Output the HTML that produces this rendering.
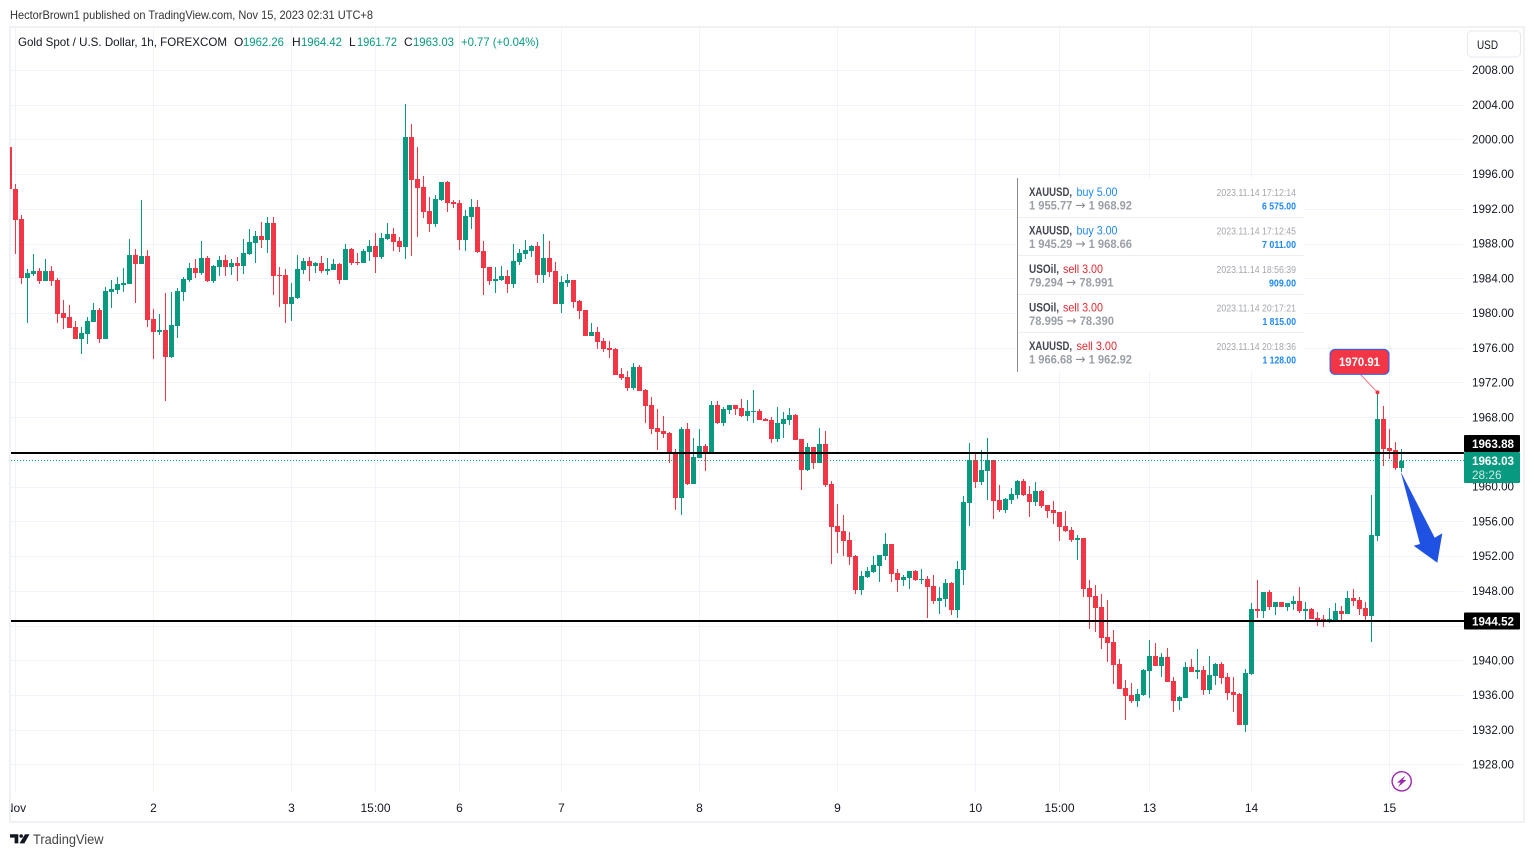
<!DOCTYPE html>
<html lang="en">
<head>
<meta charset="utf-8">
<title>Gold Spot / U.S. Dollar 1h chart</title>
<style>
html,body{margin:0;padding:0;background:#fff;width:1534px;height:857px;overflow:hidden}
svg{display:block}
text{font-family:"Liberation Sans",sans-serif;font-size:12px;fill:#131722}
.w1{font-size:12px;font-weight:bold;fill:#434651}
.w2{font-size:12px;font-weight:bold;fill:#9a9ea6}
.w2 tspan{font-family:"DejaVu Sans",sans-serif;font-weight:normal;font-size:13px;fill:#8a8e96}
.wd{font-size:10.5px;fill:#a3a6ad}
.wa{font-size:10px;font-weight:bold;fill:#1e88f5}
.buy{font-size:12px;fill:#1e88f5}
.sell{font-size:12px;fill:#e5262d}
.g{fill:#089981}
</style>
</head>
<body>
<svg id="chart" xmlns="http://www.w3.org/2000/svg" width="1534" height="857" viewBox="0 0 1534 857">
  <defs>
    <clipPath id="plotClip"><rect x="10" y="27" width="1454" height="795"/></clipPath>
    <clipPath id="axisClip"><rect x="11" y="27" width="1453" height="795"/></clipPath>
  </defs>
  <text x="10" y="19" textLength="363" lengthAdjust="spacingAndGlyphs" style="fill:#333">HectorBrown1 published on TradingView.com, Nov 15, 2023 02:31 UTC+8</text>
  <rect x="10" y="27" width="1514" height="795" fill="#fff" stroke="#f0f1f7" stroke-width="2"/>
  <g id="grid"></g>
  <g id="xAxis" clip-path="url(#axisClip)"></g>
  <g id="yAxis"></g>
  <g id="candles" clip-path="url(#plotClip)"></g>
  <g id="levels"></g>

  <g>
    <text x="18" y="46" textLength="209" lengthAdjust="spacingAndGlyphs">Gold Spot / U.S. Dollar, 1h, FOREXCOM</text>
    <text x="234" y="46">O</text>
    <text class="g" x="243" y="46" textLength="41" lengthAdjust="spacingAndGlyphs">1962.26</text>
    <text x="292" y="46">H</text>
    <text class="g" x="301" y="46" textLength="41" lengthAdjust="spacingAndGlyphs">1964.42</text>
    <text x="349" y="46">L</text>
    <text class="g" x="357" y="46" textLength="40" lengthAdjust="spacingAndGlyphs">1961.72</text>
    <text x="404" y="46">C</text>
    <text class="g" x="413" y="46" textLength="41" lengthAdjust="spacingAndGlyphs">1963.03</text>
    <text class="g" x="461" y="46" textLength="78" lengthAdjust="spacingAndGlyphs">+0.77 (+0.04%)</text>
  </g>

  <g>
    <rect x="1467.5" y="31" width="53" height="26" rx="4" fill="#fff" stroke="#e6e8ef"/>
    <text x="1477" y="49" textLength="21" lengthAdjust="spacingAndGlyphs">USD</text>
  </g>

  <g>
    <rect x="1017" y="178" width="287" height="194" fill="#fff"/>
    <rect x="1017" y="178" width="1" height="194" fill="#8a8a8a"/>
    <rect x="1018" y="217" width="286" height="1" fill="#eeeeee"/>
    <rect x="1018" y="255" width="286" height="1" fill="#eeeeee"/>
    <rect x="1018" y="294" width="286" height="1" fill="#eeeeee"/>
    <rect x="1018" y="332" width="286" height="1" fill="#eeeeee"/>

    <g>
      <text class="w1" x="1029" y="196" textLength="43" lengthAdjust="spacingAndGlyphs">XAUUSD,</text>
      <text class="buy" x="1076.5" y="196" textLength="41" lengthAdjust="spacingAndGlyphs">buy 5.00</text>
      <text class="w2" x="1029" y="209.5" textLength="103" lengthAdjust="spacingAndGlyphs">1 955.77 <tspan>→</tspan> 1 968.92</text>
      <text class="wd" x="1296" y="196" text-anchor="end" textLength="79.5" lengthAdjust="spacingAndGlyphs">2023.11.14 17:12:14</text>
      <text class="wa" x="1296" y="209.5" text-anchor="end" textLength="34" lengthAdjust="spacingAndGlyphs">6 575.00</text>
    </g>
    <g>
      <text class="w1" x="1029" y="234.5" textLength="43" lengthAdjust="spacingAndGlyphs">XAUUSD,</text>
      <text class="buy" x="1076.5" y="234.5" textLength="41" lengthAdjust="spacingAndGlyphs">buy 3.00</text>
      <text class="w2" x="1029" y="248" textLength="103" lengthAdjust="spacingAndGlyphs">1 945.29 <tspan>→</tspan> 1 968.66</text>
      <text class="wd" x="1296" y="234.5" text-anchor="end" textLength="79.5" lengthAdjust="spacingAndGlyphs">2023.11.14 17:12:45</text>
      <text class="wa" x="1296" y="248" text-anchor="end" textLength="34" lengthAdjust="spacingAndGlyphs">7 011.00</text>
    </g>
    <g>
      <text class="w1" x="1029" y="273" textLength="30" lengthAdjust="spacingAndGlyphs">USOil,</text>
      <text class="sell" x="1063" y="273" textLength="40" lengthAdjust="spacingAndGlyphs">sell 3.00</text>
      <text class="w2" x="1029" y="286.5" textLength="84.5" lengthAdjust="spacingAndGlyphs">79.294 <tspan>→</tspan> 78.991</text>
      <text class="wd" x="1296" y="273" text-anchor="end" textLength="79.5" lengthAdjust="spacingAndGlyphs">2023.11.14 18:56:39</text>
      <text class="wa" x="1296" y="286.5" text-anchor="end" textLength="27" lengthAdjust="spacingAndGlyphs">909.00</text>
    </g>
    <g>
      <text class="w1" x="1029" y="311.5" textLength="30" lengthAdjust="spacingAndGlyphs">USOil,</text>
      <text class="sell" x="1063" y="311.5" textLength="40" lengthAdjust="spacingAndGlyphs">sell 3.00</text>
      <text class="w2" x="1029" y="325" textLength="85" lengthAdjust="spacingAndGlyphs">78.995 <tspan>→</tspan> 78.390</text>
      <text class="wd" x="1296" y="311.5" text-anchor="end" textLength="79.5" lengthAdjust="spacingAndGlyphs">2023.11.14 20:17:21</text>
      <text class="wa" x="1296" y="325" text-anchor="end" textLength="33.5" lengthAdjust="spacingAndGlyphs">1 815.00</text>
    </g>
    <g>
      <text class="w1" x="1029" y="350" textLength="43" lengthAdjust="spacingAndGlyphs">XAUUSD,</text>
      <text class="sell" x="1076.5" y="350" textLength="40.5" lengthAdjust="spacingAndGlyphs">sell 3.00</text>
      <text class="w2" x="1029" y="363.5" textLength="103" lengthAdjust="spacingAndGlyphs">1 966.68 <tspan>→</tspan> 1 962.92</text>
      <text class="wd" x="1296" y="350" text-anchor="end" textLength="79.5" lengthAdjust="spacingAndGlyphs">2023.11.14 20:18:36</text>
      <text class="wa" x="1296" y="363.5" text-anchor="end" textLength="33.5" lengthAdjust="spacingAndGlyphs">1 128.00</text>
    </g>
  </g>

  <polygon points="1400.7,471.7 1420,544 1413.7,545.7 1437.3,562.7 1442.3,533.3 1434.7,537.7" fill="#1f52e3"/>

  <g>
    <circle cx="1401.7" cy="781.3" r="9.6" fill="#fff" stroke="#9c27b0" stroke-width="1.4"/>
    <polygon points="1405.5,775.5 1397,782.6 1400.6,782.6 1398,787.2 1406.5,780 1402.8,780" fill="#9c27b0"/>
  </g>

  <g>
    <polygon points="10,834.3 18.3,834.3 18.3,843.4 14.6,843.4 14.6,837.6 10,837.6" fill="#131722"/>
    <circle cx="21.2" cy="836" r="1.8" fill="#131722"/>
    <polygon points="25,834.3 29.5,834.3 24.4,843.4 19.5,843.4" fill="#131722"/>
    <text x="33" y="844" textLength="70.5" lengthAdjust="spacingAndGlyphs" style="font-size:13.5px;fill:#444">TradingView</text>
  </g>
</svg>

<script>
const priceTicks = [2008,2004,2000,1996,1992,1988,1984,1980,1976,1972,1968,1964,1960,1956,1952,1948,1944,1940,1936,1932,1928];
const hiddenPriceLabels = [1964,1944];
const timeLabels = ["Nov","2","3","15:00","6","7","8","9","10","15:00","13","14","15"];
const timeBars = [1,24,47,61,75,92,115,138,161,175,190,207,230];
const levelValues = [1963.88,1944.52];
const levelTagAbove = [true,false];
const lastPrice = 1963.03;
const countdownLabel = "28:26";
const markerPrice = 1970.91;
const markerBar = 228;

const opens = [1999.18,
1994.35,1990.89,1984.09,1984.55,1984.90,1983.75,1984.90,1983.86,1980.06,1979.60,
1978.45,1977.07,1977.64,1979.02,1980.41,1977.07,1982.48,1982.71,1983.29,1983.40,
1986.74,1985.71,1986.63,1979.37,1977.87,1978.10,1974.99,1978.56,1982.48,1983.86,
1985.24,1984.67,1986.40,1983.75,1985.36,1986.17,1985.36,1985.82,1985.47,1986.86,
1988.12,1988.93,1988.47,1990.43,1984.44,1984.44,1981.10,1981.79,1985.01,1986.05,
1985.47,1985.82,1984.90,1985.01,1985.71,1983.86,1987.43,1985.94,1985.82,1987.09,
1987.78,1986.51,1988.59,1989.16,1988.35,1987.66,2000.34,1995.50,1994.58,1991.81,
1990.31,1993.08,1995.15,1992.85,1992.73,1988.47,1991.12,1992.27,1987.20,1985.36,
1983.75,1983.86,1984.32,1983.40,1985.94,1986.86,1987.20,1987.78,1984.44,1986.40,
1984.90,1981.10,1983.52,1983.86,1981.44,1980.41,1977.41,1977.87,1976.83,1976.03,
1975.91,1973.03,1972.69,1971.42,1973.84,1971.19,1969.46,1966.81,1966.47,1966.24,
1964.05,1958.75,1966.70,1960.36,1963.36,1964.74,1963.93,1969.46,1967.39,1968.89,
1969.46,1969.12,1968.20,1968.66,1968.77,1967.85,1967.74,1965.55,1967.28,1967.74,
1968.31,1965.55,1961.98,1964.63,1962.78,1964.97,1960.36,1955.52,1954.95,1953.91,
1952.07,1948.15,1949.65,1950.23,1950.92,1952.07,1953.45,1950.11,1949.30,1949.53,
1950.34,1949.30,1949.42,1948.61,1946.88,1947.12,1948.96,1945.85,1950.46,1958.17,
1963.12,1960.59,1961.86,1963.12,1958.52,1957.36,1958.52,1959.09,1960.70,1959.21,
1958.29,1959.55,1957.94,1957.36,1957.13,1955.52,1955.06,1953.91,1954.14,1948.38,
1947.46,1946.19,1942.73,1942.16,1939.62,1936.86,1936.05,1935.36,1936.05,1938.82,
1940.54,1939.39,1940.43,1937.66,1935.36,1935.71,1939.28,1938.70,1938.93,1936.63,
1938.24,1939.62,1938.13,1936.40,1936.17,1932.60,1938.47,1945.96,1945.73,1947.92,
1946.19,1946.77,1946.19,1946.54,1946.88,1945.73,1945.96,1944.92,1944.81,1944.46,
1944.69,1945.73,1945.39,1947.23,1947.00,1946.08,1945.15,1954.37,1967.85,1964.51,
1964.28,1962.26];

const closes = [1994.31,
1990.77,1984.09,1984.67,1984.90,1983.75,1984.90,1983.75,1979.95,1979.48,1978.33,
1977.07,1977.76,1979.14,1980.41,1977.07,1982.59,1982.83,1983.40,1983.52,1986.74,
1985.71,1986.63,1979.25,1977.87,1978.10,1974.99,1978.68,1982.59,1983.98,1985.24,
1984.67,1986.40,1983.75,1985.47,1986.17,1985.36,1985.82,1985.47,1986.97,1988.24,
1988.93,1988.47,1990.43,1984.32,1984.32,1981.10,1981.90,1985.13,1986.05,1985.47,
1985.82,1984.90,1985.13,1985.71,1983.86,1987.43,1985.82,1985.82,1987.20,1987.78,
1986.51,1988.70,1989.16,1988.24,1987.66,2000.34,1995.38,1994.46,1991.70,1990.31,
1993.19,1995.15,1992.73,1992.62,1988.47,1991.23,1992.27,1987.09,1985.24,1983.75,
1983.98,1984.32,1983.40,1986.05,1986.97,1987.32,1987.78,1984.44,1986.40,1984.78,
1981.10,1983.63,1983.86,1981.33,1980.29,1977.41,1977.87,1976.72,1975.91,1975.80,
1972.92,1972.57,1971.42,1973.84,1971.07,1969.35,1966.70,1966.35,1966.12,1963.93,
1958.75,1966.70,1960.36,1963.47,1964.74,1963.93,1969.46,1967.39,1969.00,1969.46,
1969.00,1968.20,1968.77,1968.77,1967.74,1967.62,1965.55,1967.39,1967.85,1968.31,
1965.43,1961.98,1964.63,1962.78,1964.97,1960.25,1955.41,1954.83,1953.80,1951.95,
1948.15,1949.76,1950.34,1951.03,1952.18,1953.45,1950.00,1949.30,1949.65,1950.34,
1949.30,1949.42,1948.50,1946.88,1947.23,1948.96,1945.85,1950.57,1958.29,1963.12,
1960.59,1961.97,1963.12,1958.40,1957.36,1958.63,1959.21,1960.70,1959.09,1958.29,
1959.55,1957.82,1957.25,1957.02,1955.41,1954.94,1953.91,1954.14,1948.26,1947.34,
1946.07,1942.62,1942.04,1939.51,1936.74,1935.94,1935.36,1936.17,1938.93,1940.54,
1939.39,1940.43,1937.55,1935.36,1935.82,1939.28,1938.70,1938.93,1936.63,1938.36,
1939.62,1938.01,1936.28,1936.05,1932.60,1938.59,1945.96,1945.73,1947.92,1946.19,
1946.77,1946.19,1946.65,1946.88,1945.73,1945.96,1944.81,1944.69,1944.46,1944.81,
1945.73,1945.39,1947.23,1946.88,1945.96,1945.15,1954.49,1967.85,1964.39,1964.16,
1962.20,1963.03];

const highs = [1999.18,
1994.92,1991.32,1985.13,1986.86,1985.24,1986.28,1985.47,1984.09,1981.56,1980.98,
1979.14,1978.45,1979.60,1981.21,1980.64,1983.06,1983.86,1984.21,1985.24,1988.59,
1987.43,1993.08,1987.32,1980.52,1979.95,1982.36,1982.48,1982.94,1984.21,1985.82,
1986.28,1988.35,1986.63,1985.59,1986.63,1986.74,1986.28,1986.51,1988.59,1989.74,
1989.51,1990.54,1991.12,1991.12,1985.36,1985.13,1983.52,1986.74,1986.40,1986.51,
1985.94,1986.63,1986.40,1986.28,1985.82,1988.01,1987.55,1986.97,1987.43,1988.47,
1989.28,1989.28,1990.43,1989.85,1988.82,2004.14,2001.83,1999.18,1995.84,1993.42,
1993.65,1995.15,1995.27,1993.08,1993.08,1991.93,1993.19,1993.08,1988.35,1985.36,
1985.36,1985.47,1985.01,1988.01,1987.43,1988.47,1987.89,1988.24,1989.16,1988.35,
1985.94,1984.32,1984.55,1983.86,1981.56,1980.41,1978.91,1978.45,1977.18,1976.83,
1976.03,1973.72,1973.38,1974.30,1974.07,1971.31,1970.39,1969.00,1968.20,1966.35,
1964.40,1966.93,1967.39,1965.66,1966.70,1964.97,1969.92,1969.92,1969.23,1969.46,
1969.46,1970.16,1970.04,1971.19,1969.00,1967.97,1968.08,1969.23,1968.66,1969.12,
1968.43,1965.55,1965.09,1964.63,1966.81,1966.47,1960.71,1958.06,1956.79,1954.83,
1952.18,1950.34,1950.80,1952.07,1952.18,1954.72,1953.45,1950.57,1949.88,1950.34,
1950.46,1950.57,1949.76,1949.88,1948.50,1949.42,1949.07,1951.49,1958.98,1965.08,
1963.82,1964.28,1965.66,1963.12,1960.24,1958.75,1959.90,1960.82,1960.94,1960.13,
1960.59,1959.67,1957.94,1958.40,1957.13,1957.25,1955.41,1954.48,1954.14,1949.30,
1948.72,1947.69,1947.00,1943.54,1940.20,1937.78,1937.43,1936.74,1939.05,1942.39,
1942.04,1940.89,1941.47,1938.13,1935.94,1939.85,1940.20,1941.35,1939.39,1940.54,
1939.74,1939.85,1938.59,1938.13,1936.28,1939.05,1946.65,1949.30,1947.92,1948.15,
1946.77,1946.77,1946.65,1947.46,1948.50,1946.77,1946.08,1945.62,1945.27,1946.08,
1946.65,1946.31,1948.03,1948.27,1947.34,1946.77,1959.09,1970.91,1969.35,1966.70,
1965.20,1964.42];

const lows = [1994.31,
1986.89,1983.40,1978.91,1984.32,1983.40,1983.75,1983.17,1978.91,1978.22,1978.33,
1977.07,1975.34,1976.49,1979.02,1976.60,1977.07,1980.64,1982.25,1982.48,1983.40,
1981.21,1985.71,1978.45,1974.76,1977.53,1969.92,1974.88,1977.18,1981.44,1983.63,
1984.09,1984.44,1983.63,1983.52,1984.32,1984.32,1984.44,1983.75,1984.55,1986.74,
1985.82,1987.55,1986.97,1982.13,1980.75,1978.91,1979.14,1981.67,1984.55,1983.75,
1984.67,1984.67,1984.44,1985.01,1983.40,1983.86,1985.59,1985.59,1985.82,1986.05,
1984.67,1986.28,1988.47,1987.20,1987.09,1986.28,1986.63,1988.82,1991.00,1989.39,
1989.97,1992.96,1991.70,1992.16,1987.32,1987.20,1989.74,1986.97,1982.13,1983.29,
1982.36,1983.75,1982.36,1982.94,1985.59,1986.28,1986.51,1983.52,1983.52,1984.21,
1981.10,1980.06,1983.06,1980.64,1979.37,1977.41,1977.41,1975.91,1975.57,1974.88,
1972.92,1972.34,1971.07,1971.19,1971.07,1967.39,1966.12,1964.28,1965.66,1962.78,
1957.37,1956.79,1960.25,1960.36,1963.36,1961.86,1963.82,1967.28,1967.04,1968.43,
1968.31,1968.08,1967.62,1967.39,1967.74,1967.62,1965.09,1965.20,1965.66,1967.16,
1965.43,1959.67,1961.86,1962.09,1962.78,1960.02,1951.15,1952.41,1952.07,1951.03,
1947.69,1947.58,1949.53,1950.11,1949.07,1951.61,1949.07,1947.92,1948.61,1948.27,
1949.19,1948.84,1944.93,1946.54,1945.39,1946.19,1945.27,1944.93,1948.73,1955.52,
1959.90,1960.24,1958.52,1956.33,1957.13,1957.02,1958.06,1958.63,1958.98,1956.56,
1957.82,1957.59,1956.44,1955.75,1953.79,1954.83,1953.68,1951.60,1947.34,1943.66,
1943.31,1941.35,1939.85,1937.32,1936.74,1933.17,1935.13,1934.67,1935.94,1935.71,
1939.39,1938.13,1937.55,1934.09,1934.32,1935.71,1938.70,1937.90,1936.05,1936.17,
1937.20,1937.32,1935.48,1934.09,1932.60,1931.79,1938.36,1944.92,1944.92,1945.85,
1945.27,1946.19,1945.73,1945.85,1945.50,1944.58,1944.81,1944.00,1943.89,1944.35,
1944.46,1944.46,1945.39,1946.31,1945.27,1944.69,1942.16,1953.79,1962.43,1963.24,
1961.97,1961.72];

const SVG_NS = "http://www.w3.org/2000/svg";
const GREEN = "#089981";
const RED = "#f23645";
const PLOT_RIGHT = 1464;

function yScale(price) {
  return 105.2 + (2004 - price) * 8.68;
}
function xScale(bar) {
  return 9.5 + 6 * bar;
}
function make(tag, parent, attrs, content) {
  const el = document.createElementNS(SVG_NS, tag);
  for (const key in attrs) el.setAttribute(key, attrs[key]);
  if (content !== undefined) el.textContent = content;
  parent.appendChild(el);
  return el;
}

const gridLayer = document.getElementById("grid");
const xLayer = document.getElementById("xAxis");
const yLayer = document.getElementById("yAxis");
const candleLayer = document.getElementById("candles");
const levelLayer = document.getElementById("levels");

priceTicks.forEach(function (tick) {
  const py = Math.round(yScale(tick) - 0.5) + 0.5;
  const line = make("line", gridLayer, {x1: 11, x2: 1463, y1: py, y2: py, stroke: "#f0f3fa", "stroke-width": 1});
  
  
  if (hiddenPriceLabels.indexOf(tick) === -1) {
    const label = make("text", yLayer, {x: 1472, y: yScale(tick) + 3.6, textLength: 42, lengthAdjust: "spacingAndGlyphs"}, tick.toFixed(2));
    
    
  }
});

timeBars.forEach(function (bar, k) {
  const px = xScale(bar);
  const line = make("line", gridLayer, {x1: px, x2: px, y1: 28, y2: 793, stroke: "#f0f3fa", "stroke-width": 1});
  
  
  const label = make("text", xLayer, {x: px, y: 812, "text-anchor": "middle"}, timeLabels[k]);
  
  
});

opens.forEach(function (open, k) {
  const close = closes[k];
  const color = close >= open ? GREEN : RED;
  const cx = xScale(k);
  const top = Math.round(yScale(Math.max(open, close)));
  const bottom = Math.round(yScale(Math.min(open, close)));
  const wickTop = Math.round(yScale(highs[k]));
  const wickBottom = Math.round(yScale(lows[k]));
  const wick = make("rect", candleLayer, {x: cx - 0.5, y: wickTop, width: 1, height: Math.max(1, wickBottom - wickTop), fill: color});
  
  
  const body = make("rect", candleLayer, {x: cx - 2.5, y: top, width: 5, height: Math.max(1, bottom - top), fill: color});
  
  
});

const lastY = Math.round(yScale(lastPrice) - 0.5) + 0.5;
const lastLine = make("line", levelLayer, {x1: 11, x2: PLOT_RIGHT, y1: lastY, y2: lastY, stroke: GREEN, "stroke-width": 1, "stroke-dasharray": "1 2"});



levelValues.forEach(function (level, k) {
  const ly = Math.round(yScale(level));
  const shift = levelTagAbove[k] ? -9.5 : 0;
  const line = make("rect", levelLayer, {x: 11, y: ly - 1, width: PLOT_RIGHT - 11, height: 2, fill: "#000"});
  
  
  const box = make("rect", levelLayer, {x: 1464, y: ly - 8.5 + shift, width: 56, height: 17, fill: "#000", rx: 1});
  
  
  const text = make("text", levelLayer, {x: 1472, y: ly + 4.5 + shift, textLength: 42, lengthAdjust: "spacingAndGlyphs", style: "fill:#fff;font-weight:bold"}, level.toFixed(2));
  
  
});

const tagTop = Math.round(yScale(lastPrice)) - 9;
const lastBox = make("rect", levelLayer, {x: 1464, y: tagTop, width: 56, height: 31, fill: GREEN, rx: 1});


const lastText = make("text", levelLayer, {x: 1472, y: tagTop + 13, textLength: 42, lengthAdjust: "spacingAndGlyphs", style: "fill:#fff;font-weight:bold"}, lastPrice.toFixed(2));


const countdown = make("text", levelLayer, {x: 1472, y: tagTop + 27, textLength: 29.5, lengthAdjust: "spacingAndGlyphs", style: "fill:#cde9e3"}, countdownLabel);



const markerX = xScale(markerBar);
const markerY = yScale(markerPrice);
const leader = make("line", levelLayer, {x1: markerX - 18, y1: markerY - 19, x2: markerX, y2: markerY, stroke: "#f4737e", "stroke-width": 1});


const dot = make("circle", levelLayer, {cx: markerX, cy: markerY, r: 2, fill: RED});


const callout = make("rect", levelLayer, {x: markerX - 47.5, y: markerY - 43, width: 59, height: 25, rx: 5, fill: RED, stroke: "#2962ff", "stroke-width": 1});


const calloutText = make("text", levelLayer, {x: markerX - 18, y: markerY - 26.5, "text-anchor": "middle", textLength: 41, lengthAdjust: "spacingAndGlyphs", style: "fill:#fff;font-weight:bold"}, markerPrice.toFixed(2));


</script>
</body>
</html>
